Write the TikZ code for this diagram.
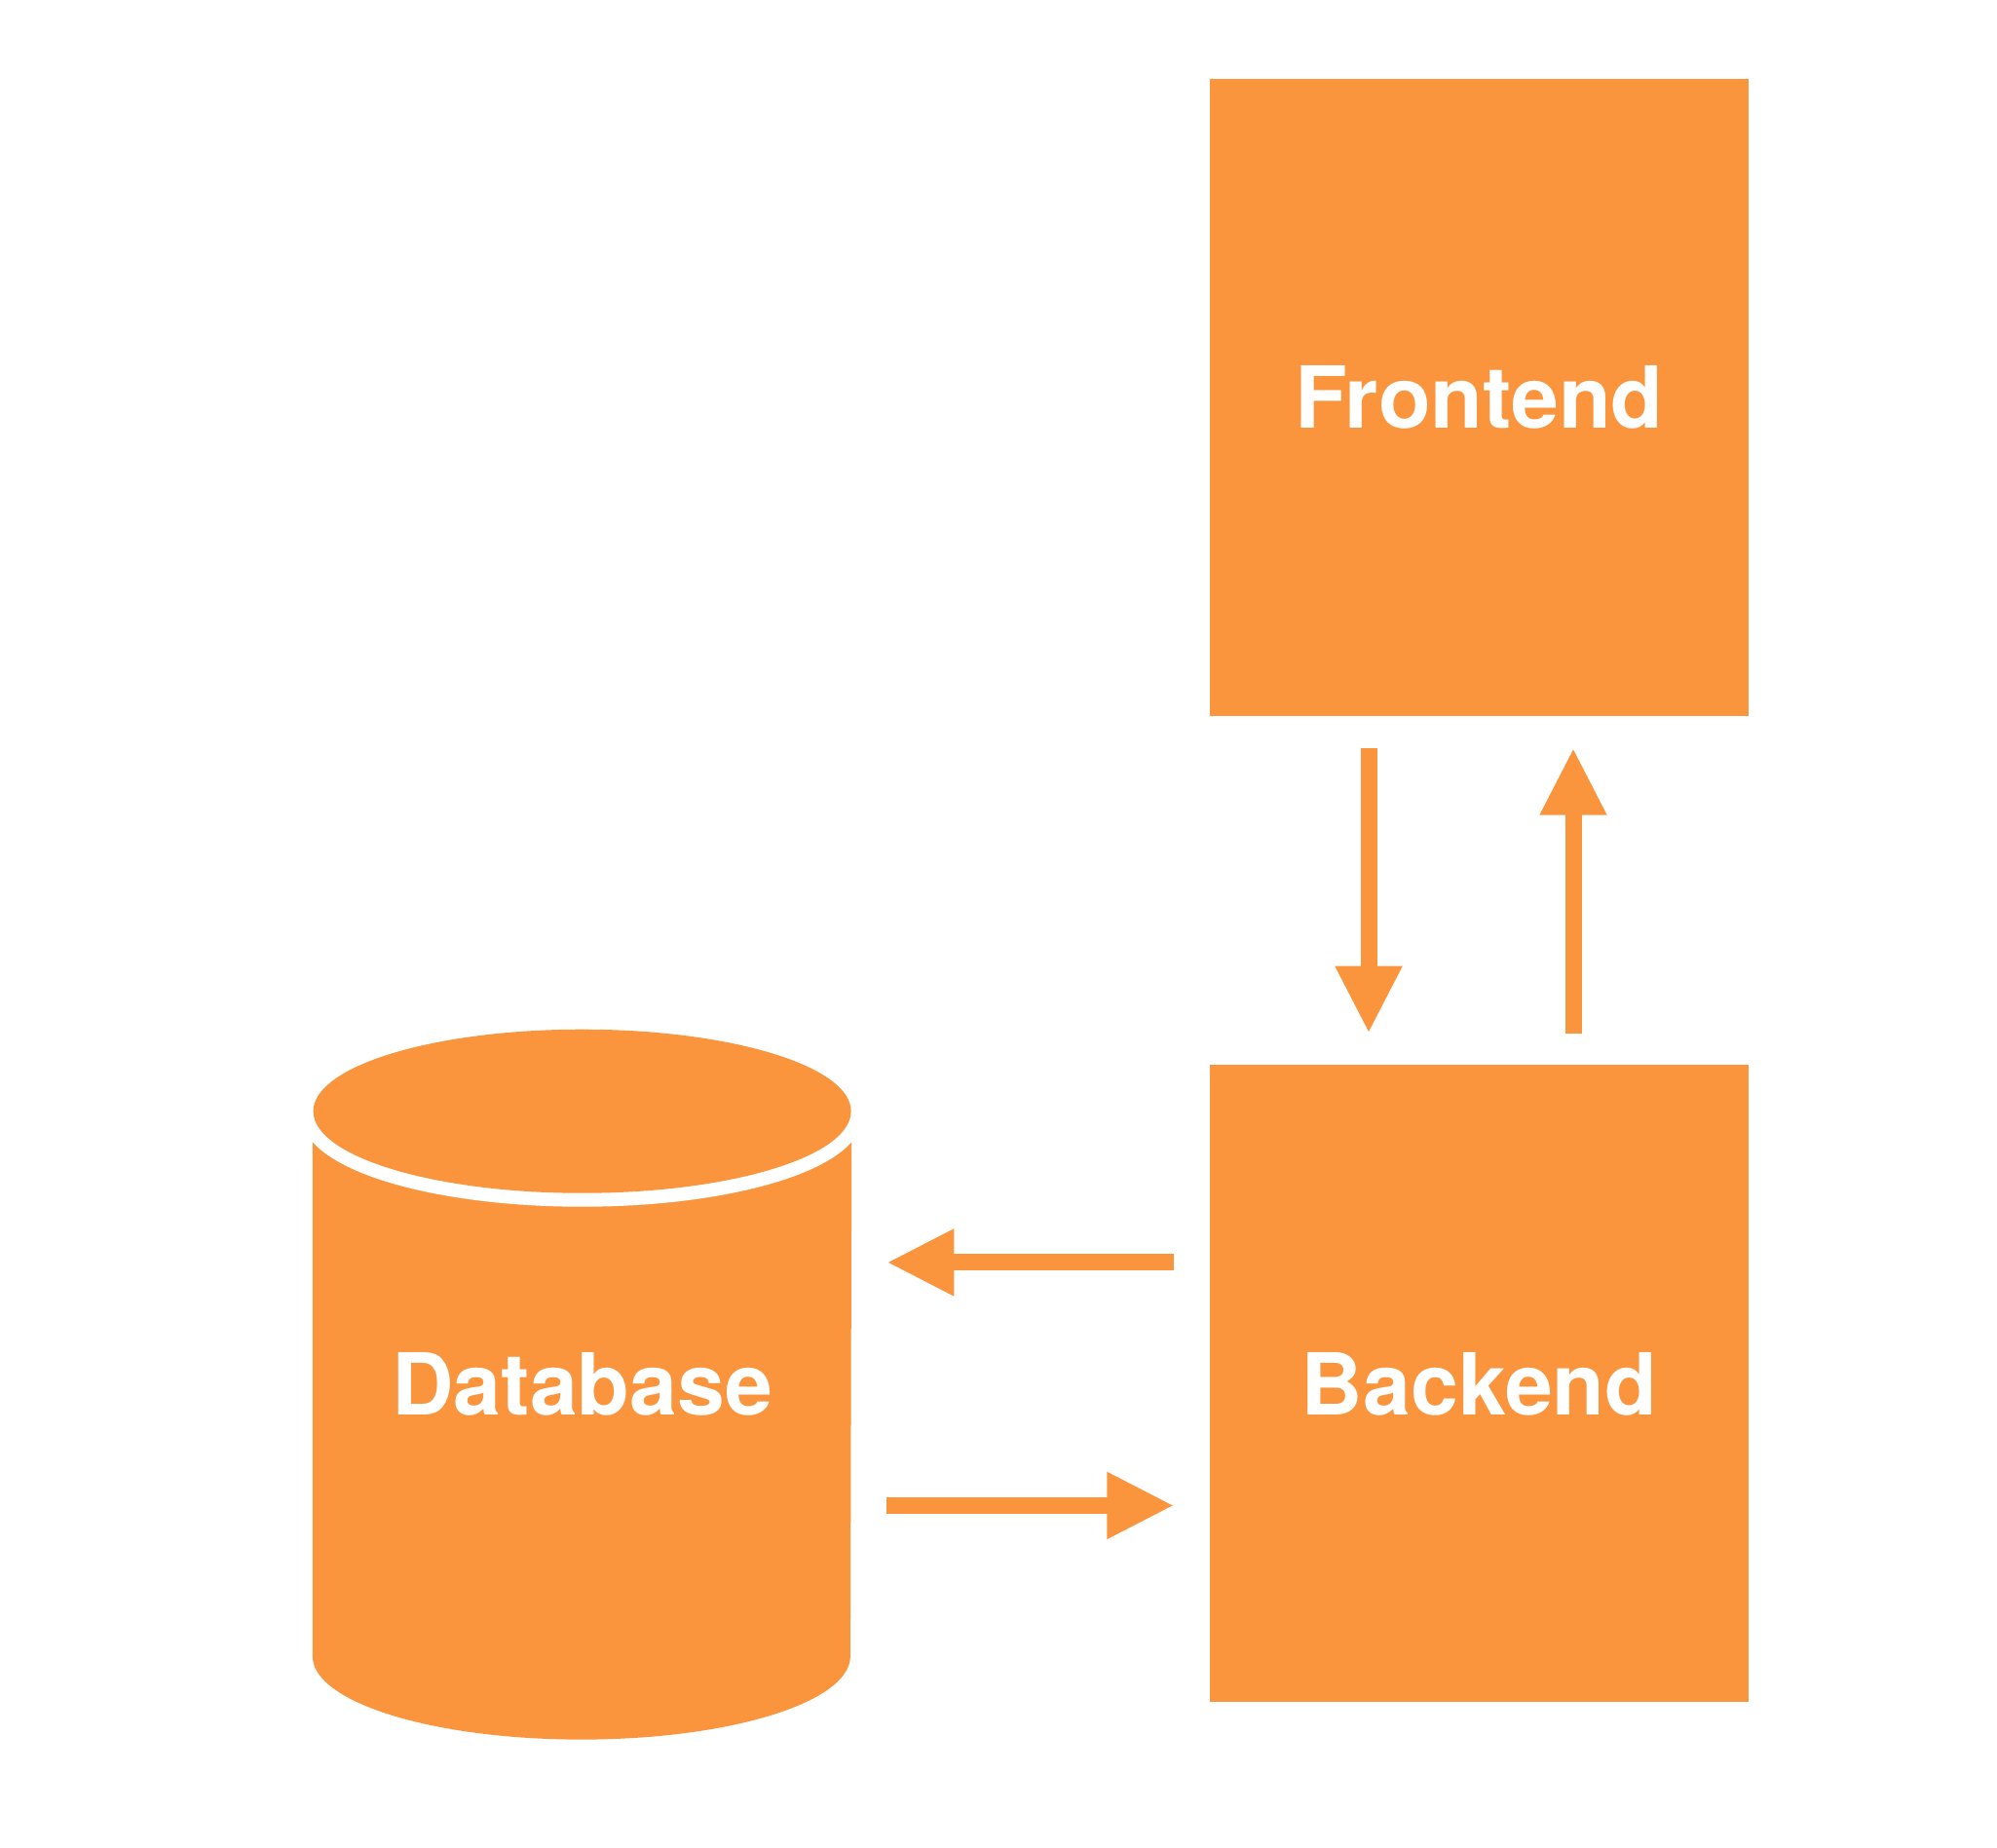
\documentclass[tikz,border=0pt]{standalone}
\usepackage{fontspec}
\usepackage{tikz}
\usetikzlibrary{positioning}
\usetikzlibrary{arrows.meta}
\newfontfamily\boxfont{TeX Gyre Heros}
\definecolor{dborange}{RGB}{251,149,61}
\tikzset{block/.style = {fill = dborange, text = white, minimum width = 5.53cm, minimum height = 6.54cm, inner sep = 0, font = \boxfont\bfseries\fontsize{25}{30}\selectfont}}
\tikzset{dbbox/.style = {text = white, minimum width = 5.52cm, minimum height = 5.58cm, inner sep = 0, font = \boxfont\bfseries\fontsize{25}{30}\selectfont}}
\tikzset{flow/.style = {draw = dborange, line width = 0.17cm, -{Triangle[length = 0.69cm, width = 0.64cm]}}}
\begin{document}
\begin{tikzpicture}
    \useasboundingbox (0,0) rectangle (20.5,-18.96);
    \node[block] (front) at (15.185,-4.08) {Frontend};
    \node[block, below = 3.57cm of front] (back) {Backend};
    \node[dbbox, left = 3.67cm of back] (db) {};
    % cylinder body
    \fill[dborange] (db.north west) -- (db.south west)
        arc[start angle = 180, end angle = 360, x radius = 2.76cm, y radius = 0.855cm]
        -- (db.north east) -- cycle;
    % lid with white gap
    \draw[white, line width = 0.28cm] (db.north) ellipse[x radius = 2.76cm, y radius = 0.84cm];
    \fill[dborange] (db.north) ellipse[x radius = 2.76cm, y radius = 0.84cm];
    \node[dbbox] (dblabel) at (db.center) {Database};
    % front <-> back
    \draw[flow, shorten <= 0.32cm, shorten >= 0.32cm] ([xshift = -1.135cm]front.south) -- ([xshift = -1.135cm]back.north);
    \draw[flow, shorten <= 0.32cm, shorten >= 0.32cm] ([xshift = 0.965cm]back.north) -- ([xshift = 0.965cm]front.south);
    % back <-> db
    \draw[flow, shorten <= 0.36cm, shorten >= 0.36cm] ([yshift = 1.245cm]back.west) -- ([yshift = 1.245cm]db.east);
    \draw[flow, shorten <= 0.36cm, shorten >= 0.36cm] ([yshift = -1.25cm]db.east) -- ([yshift = -1.25cm]back.west);
\end{tikzpicture}
\end{document}
